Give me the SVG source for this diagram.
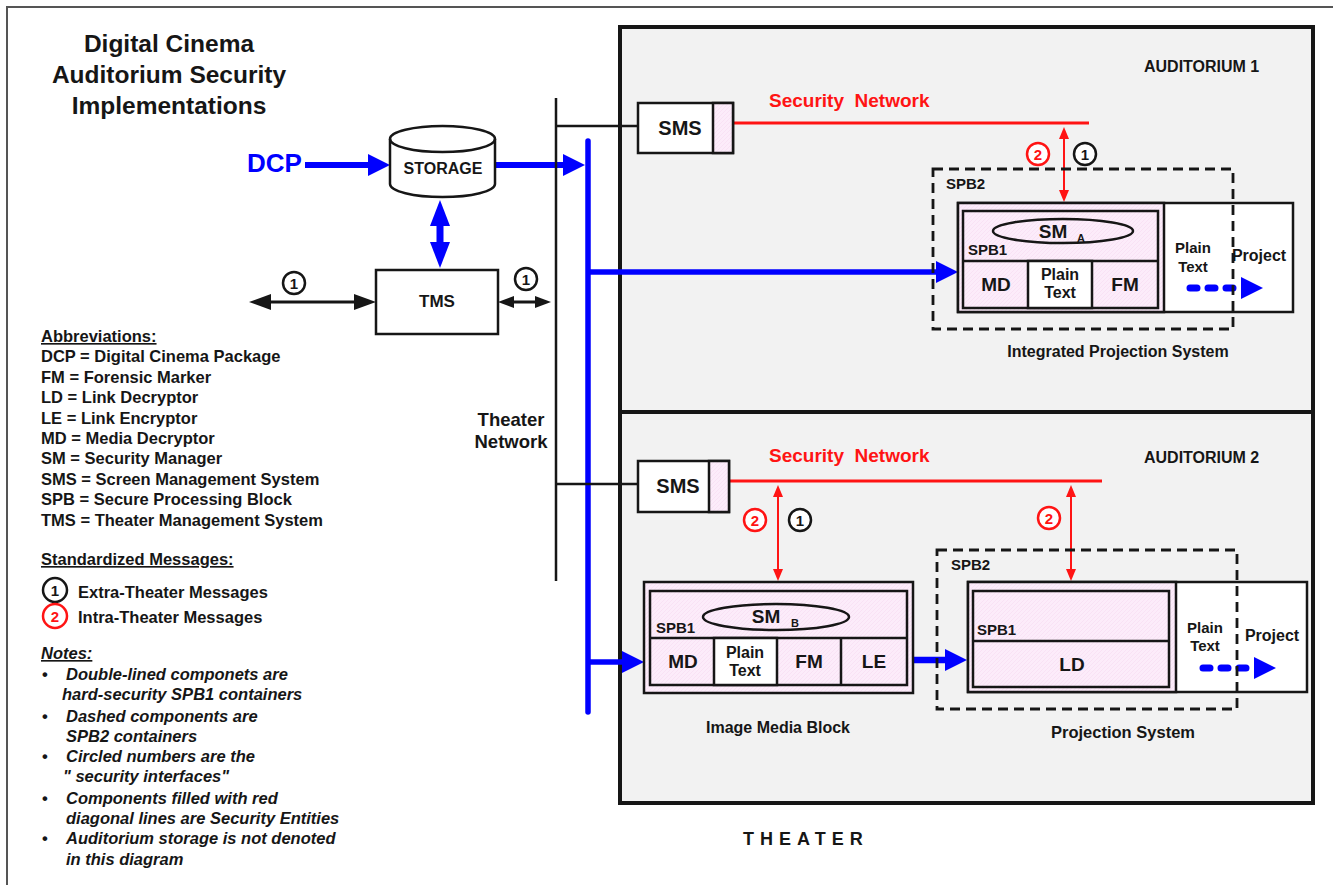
<svg xmlns="http://www.w3.org/2000/svg" width="1333" height="885" viewBox="0 0 1333 885">
<defs>
<style>
text{font-family:"Liberation Sans",Arial,Helvetica,sans-serif;font-weight:bold;fill:#161616}
.c{text-anchor:middle}
.t16{font-size:16.5px}
.t19{font-size:19px}
.t15{font-size:15px}
.it{font-style:italic}
.ul{text-decoration:underline}
.red{fill:#ff1414}
.pre{white-space:pre}
.box{fill:#fff;stroke:#161616;stroke-width:2.5}
.pink{fill:url(#hatch);stroke:#161616;stroke-width:2.5}
.white{fill:#fff;stroke:#161616;stroke-width:2.5}
.spb2{fill:none;stroke:#161616;stroke-width:2.8;stroke-dasharray:10 6}
.bl{stroke:#0000ff;fill:none}
.bk{stroke:#161616;fill:none}
.rd{stroke:#ff1414;fill:none}
.dash{stroke:#0000ff;stroke-width:7;stroke-linecap:round;stroke-dasharray:7 11;fill:none}
.badge1{fill:#fff;stroke:#161616;stroke-width:2.5}
.badge2{fill:#fff;stroke:#ff1414;stroke-width:2.5}
.num{font-size:15px;text-anchor:middle}
</style>
<pattern id="hatch" width="4" height="4" patternUnits="userSpaceOnUse">
<rect width="4" height="4" fill="#fcecfa"/>
<path d="M0,4 L4,0" stroke="#f6dcf2" stroke-width="0.6"/>
</pattern>
<marker id="bh" viewBox="0 0 22 22" refX="11" refY="11" markerWidth="22" markerHeight="22" markerUnits="userSpaceOnUse" orient="auto-start-reverse"><path d="M0,0 L22,11 L0,22 z" fill="#0000ff"/></marker>
<marker id="bhd" viewBox="0 0 22 22" refX="-8" refY="11" markerWidth="22" markerHeight="22" markerUnits="userSpaceOnUse" orient="auto" overflow="visible"><path d="M0,0 L22,11 L0,22 z" fill="#0000ff"/></marker>
<marker id="bv" viewBox="0 0 26 20" refX="13" refY="10" markerWidth="26" markerHeight="20" markerUnits="userSpaceOnUse" orient="auto-start-reverse"><path d="M0,0 L26,10 L0,20 z" fill="#0000ff"/></marker>
<marker id="kL" viewBox="0 0 22 16" refX="11" refY="8" markerWidth="22" markerHeight="16" markerUnits="userSpaceOnUse" orient="auto-start-reverse"><path d="M0,0 L22,8 L0,16 z" fill="#161616"/></marker>
<marker id="kS" viewBox="0 0 16 12" refX="8" refY="6" markerWidth="16" markerHeight="12" markerUnits="userSpaceOnUse" orient="auto-start-reverse"><path d="M0,0 L16,6 L0,12 z" fill="#161616"/></marker>
<marker id="rh" viewBox="0 0 12 10" refX="6" refY="5" markerWidth="12" markerHeight="10" markerUnits="userSpaceOnUse" orient="auto-start-reverse"><path d="M0,0 L12,5 L0,10 z" fill="#ff1414"/></marker>
</defs>

<rect width="1333" height="885" fill="#fff"/>
<path d="M7,885 V7 H1333" fill="none" stroke="#555" stroke-width="2"/>

<g id="theater">
<rect x="620" y="27" width="693" height="776" fill="#f2f2f2" stroke="#161616" stroke-width="4"/>
<line x1="620" y1="412" x2="1313" y2="412" stroke="#161616" stroke-width="4"/>
<text x="743" y="845" style="font-size:18px;letter-spacing:6px">THEATER</text>
<text x="1144" y="72" style="font-size:16px">AUDITORIUM 1</text>
<text x="1144" y="463" style="font-size:16px">AUDITORIUM 2</text>
</g>

<g id="title">
<text class="c" x="169" y="52" style="font-size:24.5px">Digital Cinema</text>
<text class="c" x="169" y="83" style="font-size:24.5px">Auditorium Security</text>
<text class="c" x="169" y="114" style="font-size:24.5px">Implementations</text>
</g>

<g id="connectors">
<line class="bl" x1="305" y1="165" x2="379" y2="165" stroke-width="6" marker-end="url(#bh)"/>
<line class="bl" x1="495" y1="165" x2="574" y2="165" stroke-width="6" marker-end="url(#bh)"/>
<line class="bl" x1="440" y1="213" x2="440" y2="255" stroke-width="7" marker-start="url(#bv)" marker-end="url(#bv)"/>
<line class="bl" x1="588" y1="141" x2="588" y2="712" stroke-width="5.5" stroke-linecap="round"/>
<line class="bl" x1="588" y1="272" x2="947" y2="272" stroke-width="5.5" marker-end="url(#bh)"/>
<line class="bl" x1="588" y1="662" x2="633" y2="662" stroke-width="5.5" marker-end="url(#bh)"/>
<line class="bl" x1="913" y1="660" x2="956" y2="660" stroke-width="6.5" marker-end="url(#bh)"/>
<line class="bk" x1="556" y1="98" x2="556" y2="581" stroke-width="2.5"/>
<line class="bk" x1="556" y1="126" x2="638" y2="126" stroke-width="2.5"/>
<line class="bk" x1="556" y1="484" x2="638" y2="484" stroke-width="2.5"/>
<line class="bk" x1="260" y1="302" x2="365" y2="302" stroke-width="3" marker-start="url(#kL)" marker-end="url(#kL)"/>
<line class="bk" x1="506" y1="302" x2="543" y2="302" stroke-width="3" marker-start="url(#kS)" marker-end="url(#kS)"/>
<line class="rd" x1="733" y1="123" x2="1089" y2="123" stroke-width="3"/>
<line class="rd" x1="1064" y1="133" x2="1064" y2="196" stroke-width="2" marker-start="url(#rh)" marker-end="url(#rh)"/>
<line class="rd" x1="729" y1="481" x2="1102" y2="481" stroke-width="3"/>
<line class="rd" x1="778" y1="491" x2="778" y2="575" stroke-width="2" marker-start="url(#rh)" marker-end="url(#rh)"/>
<line class="rd" x1="1071" y1="491" x2="1071" y2="575" stroke-width="2" marker-start="url(#rh)" marker-end="url(#rh)"/>
<circle class="badge1" cx="294" cy="283" r="11"/><text class="num" x="294" y="288.5">1</text>
<circle class="badge1" cx="526" cy="279" r="11"/><text class="num" x="526" y="284.5">1</text>
<circle class="badge2" cx="1038" cy="154" r="11"/><text class="num red" x="1038" y="159.5">2</text>
<circle class="badge1" cx="1085" cy="154" r="11"/><text class="num" x="1085" y="159.5">1</text>
<circle class="badge2" cx="755" cy="520" r="11"/><text class="num red" x="755" y="525.5">2</text>
<circle class="badge1" cx="800" cy="520" r="11"/><text class="num" x="800" y="525.5">1</text>
<circle class="badge2" cx="1049" cy="518" r="11"/><text class="num red" x="1049" y="523.5">2</text>
</g>

<g id="dcp">
<text x="247" y="172" style="font-size:26px;fill:#0000ff">DCP</text>
</g>

<g id="storage">
<path d="M390,139 A52.5,13 0 0,1 495,139 V184 A52.5,13 0 0,1 390,184 Z" fill="#fff" stroke="#161616" stroke-width="2.5"/>
<path d="M390,139 A52.5,13 0 0,0 495,139" fill="none" stroke="#161616" stroke-width="2.5"/>
<text class="c" x="443" y="174" style="font-size:16px">STORAGE</text>
</g>

<g id="tms">
<rect class="box" x="376" y="270" width="122" height="64"/>
<text class="c" x="437" y="307" style="font-size:17px">TMS</text>
</g>

<g id="theater-network">
<text class="c" x="511" y="426" style="font-size:18.5px">Theater</text>
<text class="c" x="511" y="448" style="font-size:18.5px">Network</text>
</g>

<g id="legend">
<text x="41" y="342" class="t16 ul">Abbreviations:</text>
<text x="41" y="362" class="t16">DCP = Digital Cinema Package</text>
<text x="41" y="383" class="t16">FM = Forensic Marker</text>
<text x="41" y="403" class="t16">LD = Link Decryptor</text>
<text x="41" y="424" class="t16">LE = Link Encryptor</text>
<text x="41" y="444" class="t16">MD = Media Decryptor</text>
<text x="41" y="464" class="t16">SM = Security Manager</text>
<text x="41" y="485" class="t16">SMS = Screen Management System</text>
<text x="41" y="505" class="t16">SPB = Secure Processing Block</text>
<text x="41" y="526" class="t16">TMS = Theater Management System</text>
<text x="41" y="565" class="t16 ul">Standardized Messages:</text>
<circle class="badge1" cx="55" cy="590" r="12"/><text class="num" x="55" y="595.5">1</text>
<text x="78" y="598" class="t16">Extra-Theater Messages</text>
<circle class="badge2" cx="55" cy="616" r="12"/><text class="num red" x="55" y="621.5">2</text>
<text x="78" y="623" class="t16">Intra-Theater Messages</text>
<text x="41" y="659" class="t16 it ul">Notes:</text>
<g class="t16 it">
<text x="42" y="680" style="font-style:normal">•</text><text x="66" y="680">Double-lined componets are</text>
<text x="62" y="700">hard-security SPB1 containers</text>
<text x="42" y="722" style="font-style:normal">•</text><text x="66" y="722">Dashed components are</text>
<text x="66" y="742">SPB2 containers</text>
<text x="42" y="762" style="font-style:normal">•</text><text x="66" y="762">Circled numbers are the</text>
<text x="63" y="782">" security interfaces"</text>
<text x="42" y="804" style="font-style:normal">•</text><text x="66" y="804">Components filled with red</text>
<text x="66" y="824">diagonal lines are Security Entities</text>
<text x="42" y="844" style="font-style:normal">•</text><text x="66" y="844">Auditorium storage is not denoted</text>
<text x="66" y="865">in this diagram</text>
</g>
</g>

<g id="sms1">
<rect class="box" x="638" y="103" width="95" height="50"/>
<rect class="pink" x="713" y="103" width="20" height="50"/>
<text class="c" x="680" y="135" style="font-size:20px">SMS</text>
<text class="red pre" x="769" y="107" style="font-size:19px">Security  Network</text>
</g>

<g id="integrated-projection-system">
<rect class="white" x="958" y="203" width="335" height="109"/>
<rect class="pink" x="958" y="203" width="206" height="109"/>
<rect class="pink" x="963" y="211" width="195" height="97"/>
<line class="bk" x1="963" y1="261" x2="1158" y2="261" stroke-width="2.5"/>
<rect class="white" x="1028" y="261" width="64" height="47"/>
<ellipse cx="1063" cy="231" rx="70" ry="12" fill="none" stroke="#161616" stroke-width="2.5"/>
<text class="c" x="1053" y="238" style="font-size:19px">SM</text>
<text x="1077" y="242" style="font-size:11px">A</text>
<text x="968" y="255" class="t15">SPB1</text>
<text class="c t19" x="996" y="291">MD</text>
<text class="c" x="1060" y="280" style="font-size:16px">Plain</text>
<text class="c" x="1060" y="298" style="font-size:16px">Text</text>
<text class="c t19" x="1125" y="291">FM</text>
<text class="c" x="1193" y="253" style="font-size:15px">Plain</text>
<text class="c" x="1193" y="272" style="font-size:15px">Text</text>
<text class="c" x="1259" y="261" style="font-size:16px">Project</text>
<line class="dash" x1="1190" y1="288" x2="1233" y2="288" marker-end="url(#bhd)"/>
<rect class="spb2" x="933" y="169" width="300" height="160"/>
<text x="946" y="189" class="t15">SPB2</text>
<text class="c" x="1118" y="357" style="font-size:16px">Integrated Projection System</text>
</g>

<g id="sms2">
<rect class="box" x="638" y="461" width="91" height="51"/>
<rect class="pink" x="709" y="461" width="20" height="51"/>
<text class="c" x="678" y="493" style="font-size:20px">SMS</text>
<text class="red pre" x="769" y="462" style="font-size:19px">Security  Network</text>
</g>

<g id="image-media-block">
<rect class="pink" x="644" y="582" width="269" height="111"/>
<rect class="pink" x="650" y="591" width="257" height="94"/>
<line class="bk" x1="650" y1="638" x2="907" y2="638" stroke-width="2.5"/>
<rect class="white" x="714" y="638" width="63" height="47"/>
<line class="bk" x1="841" y1="638" x2="841" y2="685" stroke-width="2.5"/>
<ellipse cx="776" cy="617" rx="73" ry="13" fill="none" stroke="#161616" stroke-width="2.5"/>
<text class="c" x="766" y="623" style="font-size:19px">SM</text>
<text x="791" y="627" style="font-size:11px">B</text>
<text x="656" y="633" class="t15">SPB1</text>
<text class="c t19" x="683" y="668">MD</text>
<text class="c" x="745" y="658" style="font-size:16px">Plain</text>
<text class="c" x="745" y="676" style="font-size:16px">Text</text>
<text class="c t19" x="809" y="668">FM</text>
<text class="c t19" x="874" y="668">LE</text>
<text class="c" x="778" y="733" style="font-size:16px">Image Media Block</text>
</g>

<g id="projection-system">
<rect class="white" x="968" y="582" width="339" height="110"/>
<rect class="pink" x="968" y="582" width="208" height="110"/>
<rect class="pink" x="973" y="591" width="196" height="96"/>
<line class="bk" x1="973" y1="641" x2="1169" y2="641" stroke-width="2.5"/>
<text x="977" y="635" class="t15">SPB1</text>
<text class="c t19" x="1072" y="671">LD</text>
<text class="c" x="1205" y="633" style="font-size:15px">Plain</text>
<text class="c" x="1205" y="651" style="font-size:15px">Text</text>
<text class="c" x="1272" y="641" style="font-size:16px">Project</text>
<line class="dash" x1="1203" y1="668" x2="1246" y2="668" marker-end="url(#bhd)"/>
<rect class="spb2" x="937" y="550" width="300" height="159"/>
<text x="951" y="570" class="t15">SPB2</text>
<text class="c" x="1123" y="738" style="font-size:16.5px">Projection System</text>
</g>
</svg>
